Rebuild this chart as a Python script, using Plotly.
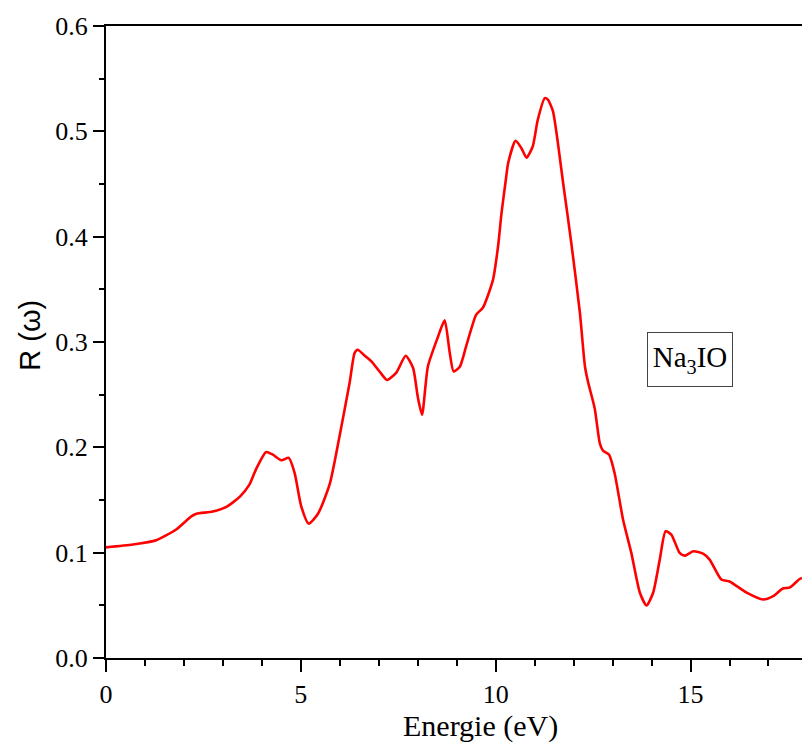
import plotly.graph_objects as go

# Reflectivity spectrum R(omega) of Na3IO versus photon energy
energy_ev = [0.0, 0.69, 1.29, 1.8, 2.19, 2.32, 2.74, 3.09, 3.43, 3.68, 3.86, 4.11,
             4.28, 4.5, 4.69, 4.84, 5.01, 5.2, 5.44, 5.74, 6.0, 6.25, 6.38, 6.46,
             6.64, 6.81, 7.02, 7.21, 7.45, 7.69, 7.88, 8.0, 8.11, 8.26, 8.51, 8.69,
             8.82, 8.92, 9.08, 9.25, 9.5, 9.67, 9.93, 10.06, 10.15, 10.26, 10.32,
             10.51, 10.66, 10.79, 10.95, 11.08, 11.26, 11.34, 11.47, 11.73, 11.94,
             12.16, 12.29, 12.37, 12.54, 12.67, 12.75, 12.91, 13.05, 13.27, 13.48,
             13.7, 13.87, 14.04, 14.21, 14.36, 14.51, 14.72, 14.85, 15.07, 15.32,
             15.49, 15.79, 16.0, 16.44, 16.86, 17.12, 17.37, 17.55, 17.8, 17.86]
reflectivity = [0.105, 0.1077, 0.1118, 0.122, 0.1345, 0.137, 0.139, 0.1435, 0.153,
                0.1646, 0.180, 0.1956, 0.193, 0.1877, 0.190, 0.1757, 0.144, 0.1276,
                0.137, 0.165, 0.212, 0.261, 0.2896, 0.2927, 0.287, 0.2816, 0.272,
                0.264, 0.271, 0.287, 0.2753, 0.248, 0.231, 0.2768, 0.304, 0.3205,
                0.29, 0.272, 0.2766, 0.297, 0.326, 0.3325, 0.359, 0.3907, 0.4226,
                0.454, 0.47, 0.491, 0.484, 0.475, 0.4856, 0.511, 0.5315, 0.53, 0.519,
                0.451, 0.394, 0.328, 0.277, 0.262, 0.237, 0.204, 0.197, 0.193,
                0.1757, 0.131, 0.0998, 0.0619, 0.0498, 0.0619, 0.0934, 0.1203,
                0.117, 0.0998, 0.0972, 0.1013, 0.099, 0.0934, 0.0745, 0.0726, 0.062,
                0.0555, 0.0587, 0.066, 0.067, 0.075, 0.076]

x_ticks = [0, 5, 10, 15]
y_ticks = [0.0, 0.1, 0.2, 0.3, 0.4, 0.5, 0.6]
y_tick_labels = ["0.0", "0.1", "0.2", "0.3", "0.4", "0.5", "0.6"]

serif = "Liberation Serif"

fig = go.Figure()
fig.add_trace(go.Scatter(
    x=energy_ev, y=reflectivity, mode="lines",
    line=dict(color="#ff0000", width=2.6, shape="spline", smoothing=0.6),
    hoverinfo="skip", showlegend=False,
))

fig.update_layout(
    width=802, height=744,
    margin=dict(l=106, r=0, t=26, b=86),
    paper_bgcolor="white", plot_bgcolor="white",
    showlegend=False,
    xaxis=dict(
        range=[0, 17.86], tickvals=x_ticks, ticktext=[str(v) for v in x_ticks],
        ticks="outside", ticklen=12, tickwidth=2, tickcolor="black",
        minor=dict(dtick=1, ticks="outside", ticklen=6, tickwidth=2, tickcolor="black"),
        showline=True, linecolor="black", linewidth=2, mirror=True,
        showgrid=False, zeroline=False,
        tickfont=dict(family=serif, size=26, color="black"),
    ),
    yaxis=dict(
        range=[0, 0.6], tickvals=y_ticks, ticktext=y_tick_labels,
        ticks="outside", ticklen=11, tickwidth=2, tickcolor="black",
        minor=dict(dtick=0.05, ticks="outside", ticklen=5, tickwidth=2, tickcolor="black"),
        showline=True, linecolor="black", linewidth=2,
        showgrid=False, zeroline=False,
        tickfont=dict(family=serif, size=26, color="black"),
    ),
    annotations=[
        dict(text="Energie (eV)", xref="paper", yref="paper",
             x=(480 - 106) / 696, y=-0.108, xanchor="center", yanchor="middle",
             showarrow=False, font=dict(family=serif, size=30, color="black")),
        dict(text="R (ω)", xref="paper", yref="paper",
             x=-(106 - 30) / 696, y=(658.5 - 336) / 632.5, xanchor="center",
             yanchor="middle", textangle=-90, showarrow=False,
             font=dict(family="Liberation Sans", size=29, color="black")),
        dict(text="Na<sub>3</sub>IO", x=14.98, y=0.283, xref="x", yref="y",
             showarrow=False, font=dict(family=serif, size=29, color="black"),
             width=76, height=45,
             bordercolor="#444444", borderwidth=1, borderpad=4, bgcolor="white"),
    ],
)

fig.write_html("out.html")
